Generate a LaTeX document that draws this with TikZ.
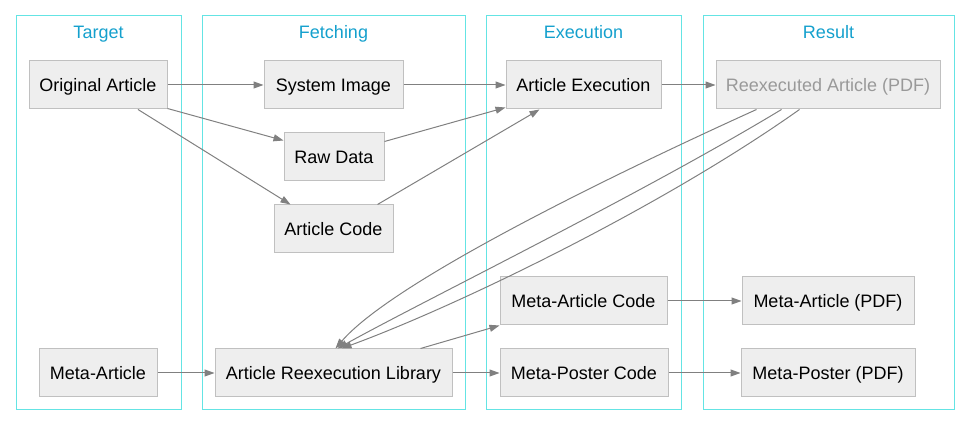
\documentclass[tikz,border=0pt]{standalone}
\usepackage{fontspec}
\setmainfont{Liberation Sans}
\usetikzlibrary{arrows.meta}
\definecolor{clusterc}{RGB}{100,228,228}
\definecolor{labelc}{RGB}{20,160,205}
\definecolor{boxfill}{RGB}{238,238,238}
\definecolor{boxline}{RGB}{192,192,192}
\definecolor{edgec}{RGB}{128,128,128}
\begin{document}
\begin{tikzpicture}[x=1pt,y=-1pt,
  font=\fontsize{18}{21}\selectfont,
  cluster/.style={draw=clusterc,line width=1pt},
  clabel/.style={text=labelc,inner sep=0pt,text height=14pt,text depth=0pt},
  box/.style={draw=boxline,fill=boxfill,line width=1pt,minimum height=48pt,inner sep=0pt,text height=14pt,text depth=0pt},
  edge/.style={draw=edgec,line width=1pt,-{Triangle[length=10pt,width=7pt]}}]
\useasboundingbox (0,0) rectangle (970,427);
% clusters
\draw[cluster] (16,16) rectangle (181,410);
\draw[cluster] (202,16) rectangle (465,410);
\draw[cluster] (486,16) rectangle (681,410);
\draw[cluster] (703,16) rectangle (954,410);
\node[clabel] (lt) at (98.5,32) {Target};
\node[clabel] (lf) at (333.5,32) {Fetching};
\node[clabel] (le) at (583.5,32) {Execution};
\node[clabel] (lr) at (828.5,32) {Result};
% nodes
\node[box,minimum width=138pt] (oa) at (98,85) {Original Article};
\node[box,minimum width=139pt] (si) at (333.5,85) {System Image};
\node[box,minimum width=100pt] (rd) at (334,157) {Raw Data};
\node[box,minimum width=119pt] (ac) at (333.5,229) {Article Code};
\node[box,minimum width=155pt] (ae) at (583.5,85) {Article Execution};
\node[box,minimum width=224pt,text=gray!80] (re) at (828,85) {Reexecuted Article (PDF)};
\node[box,minimum width=118pt] (ma) at (98,373) {Meta-Article};
\node[box,minimum width=237pt] (lib) at (333.5,373) {Article Reexecution Library};
\node[box,minimum width=167pt] (mac) at (583.5,301) {Meta-Article Code};
\node[box,minimum width=168pt] (mpc) at (584,373) {Meta-Poster Code};
\node[box,minimum width=172pt] (map) at (828,301) {Meta-Article (PDF)};
\node[box,minimum width=174pt] (mpp) at (828,373) {Meta-Poster (PDF)};
% edges
\draw[edge] (oa.east) -- (si.west);
\draw[edge] ([yshift=1pt]oa.south east) -- ([yshift=-8pt]rd.north west);
\draw[edge] ([xshift=40pt]oa.south) -- ([xshift=17pt]ac.north west);
\draw[edge] (si.east) -- (ae.west);
\draw[edge] ([yshift=-9pt]rd.north east) -- ([yshift=2pt]ae.south west);
\draw[edge] ([xshift=-16pt]ac.north east) -- ([xshift=34pt]ae.south west);
\draw[edge] (ae.east) -- (re.west);
\draw[edge] ([xshift=41pt]re.south west) .. controls (590,185) and (390,285) .. ([xshift=121pt]lib.north west);
\draw[edge] ([xshift=66pt]re.south west) .. controls (640,195) and (425,300) .. ([xshift=123pt]lib.north west);
\draw[edge] ([xshift=84pt]re.south west) .. controls (665,205) and (460,305) .. ([xshift=127pt]lib.north west);
\draw[edge] (ma.east) -- (lib.west);
\draw[edge] ([xshift=-32pt]lib.north east) -- (mac.south west);
\draw[edge] (lib.east) -- (mpc.west);
\draw[edge] (mac.east) -- (map.west);
\draw[edge] (mpc.east) -- (mpp.west);
\end{tikzpicture}
\end{document}
